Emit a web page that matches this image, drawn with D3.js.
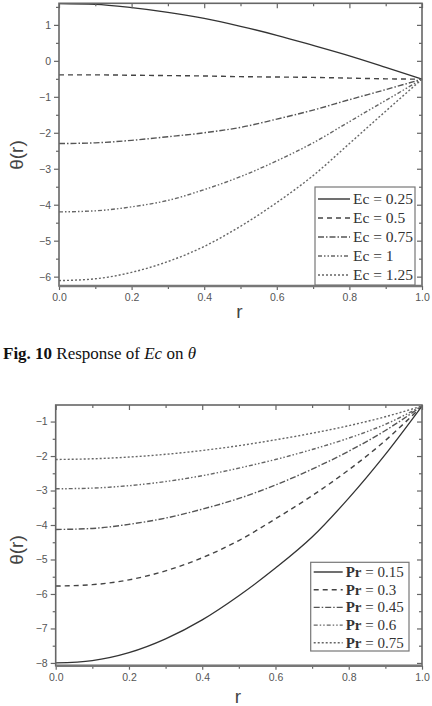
<!DOCTYPE html>
<html><head><meta charset="utf-8">
<script src="https://cdn.jsdelivr.net/npm/d3@7"></script>
<style>body{margin:0;background:#fff;} svg{display:block;}</style>
</head><body>
<svg id="c" width="432" height="706"></svg>
<script>
// ---------- data ----------
const rValues = [0, 0.1, 0.2, 0.3, 0.4, 0.5, 0.6, 0.7, 0.8, 0.9, 1.0];

const ecLabels = ["0.25", "0.5", "0.75", "1", "1.25"];
const ec025 = [1.59, 1.57, 1.48, 1.35, 1.18, 0.96, 0.71, 0.43, 0.14, -0.18, -0.51];
const ec05  = [-0.39, -0.39, -0.40, -0.41, -0.42, -0.44, -0.45, -0.46, -0.48, -0.50, -0.51];
const ec075 = [-2.30, -2.28, -2.21, -2.11, -2.00, -1.85, -1.62, -1.37, -1.08, -0.80, -0.51];
const ec1   = [-4.20, -4.17, -4.06, -3.88, -3.58, -3.22, -2.78, -2.28, -1.69, -1.10, -0.51];
const ec125 = [-6.11, -6.06, -5.88, -5.58, -5.16, -4.60, -3.94, -3.19, -2.30, -1.40, -0.51];

const prLabels = ["0.15", "0.3", "0.45", "0.6", "0.75"];
const pr015 = [-8.00, -7.93, -7.70, -7.30, -6.75, -6.05, -5.25, -4.35, -3.22, -1.95, -0.55];
const pr03  = [-5.77, -5.73, -5.59, -5.33, -4.95, -4.45, -3.82, -3.15, -2.40, -1.55, -0.55];
const pr045 = [-4.13, -4.10, -3.98, -3.80, -3.54, -3.23, -2.84, -2.38, -1.86, -1.26, -0.55];
const pr06  = [-2.95, -2.93, -2.86, -2.74, -2.57, -2.35, -2.10, -1.81, -1.48, -1.08, -0.55];
const pr075 = [-2.10, -2.08, -2.03, -1.95, -1.84, -1.70, -1.53, -1.34, -1.12, -0.86, -0.55];

const xTicks = [0, 0.2, 0.4, 0.6, 0.8, 1.0];
const xMinor = [0.1, 0.3, 0.5, 0.7, 0.9];
const ecYTicks = [-6, -5, -4, -3, -2, -1, 0, 1];
const ecYMinor = [-5.5, -4.5, -3.5, -2.5, -1.5, -0.5, 0.5, 1.5];
const prYTicks = [-8, -7, -6, -5, -4, -3, -2, -1];
const prYMinor = [-7.5, -6.5, -5.5, -4.5, -3.5, -2.5, -1.5];

// ---------- styles ----------
const dashes = [null, "5,4", "6,2,1.5,2", "4,2,1.5,2,1.5,2", "2,2"];
const colors = ["#333", "#444", "#555", "#666", "#666"];

const svg = d3.select("#c");

function panel(cfg) {
  const x = d3.scaleLinear([0, 1], [cfg.x0, cfg.x1]);
  const y = d3.scaleLinear(cfg.yDomain, [cfg.y1, cfg.y0]);
  const g = svg.append("g");

  // series
  const line = d3.line().x((d, i) => x(rValues[i])).y(d => y(d)).curve(d3.curveMonotoneX);
  cfg.series.forEach((s, i) => {
    g.append("path").attr("d", line(s)).attr("fill", "none")
      .attr("stroke", colors[i]).attr("stroke-width", i === 0 ? 1.3 : 1.4)
      .attr("stroke-dasharray", dashes[i]);
  });

  // left axis (outward ticks)
  g.append("g").attr("transform", `translate(${cfg.x0},0)`)
    .call(d3.axisLeft(y).tickValues(cfg.yTicks).tickSize(5).tickPadding(3).tickFormat(d3.format("d")));
  g.append("g").attr("transform", `translate(${cfg.x0},0)`)
    .call(d3.axisLeft(y).tickValues(cfg.yMinor).tickSize(3).tickFormat(""));
  // right axis (inward ticks)
  g.append("g").attr("transform", `translate(${cfg.x1},0)`)
    .call(d3.axisLeft(y).tickValues(cfg.yTicks).tickSize(5).tickFormat(""));
  g.append("g").attr("transform", `translate(${cfg.x1},0)`)
    .call(d3.axisLeft(y).tickValues(cfg.yMinor).tickSize(3).tickFormat(""));
  // bottom axis (outward)
  g.append("g").attr("transform", `translate(0,${cfg.y1})`)
    .call(d3.axisBottom(x).tickValues(xTicks).tickSize(4).tickPadding(4).tickFormat(d3.format(".1f")));
  g.append("g").attr("transform", `translate(0,${cfg.y1})`)
    .call(d3.axisBottom(x).tickValues(xMinor).tickSize(3).tickFormat(""));
  // top axis (inward)
  g.append("g").attr("transform", `translate(0,${cfg.y0})`)
    .call(d3.axisBottom(x).tickValues(xTicks).tickSize(5).tickFormat(""));
  g.append("g").attr("transform", `translate(0,${cfg.y0})`)
    .call(d3.axisBottom(x).tickValues(xMinor).tickSize(3).tickFormat(""));

  g.selectAll(".domain").remove();
  g.selectAll(".tick line").attr("stroke", "#666").attr("stroke-width", 1.2);
  g.selectAll(".tick text").attr("font-family", "Liberation Sans, Arial, sans-serif")
    .attr("font-size", 10.5).attr("fill", "#555");

  // frame
  g.append("rect").attr("x", cfg.x0).attr("y", cfg.y0)
    .attr("width", cfg.x1 - cfg.x0).attr("height", cfg.y1 - cfg.y0)
    .attr("fill", "none").attr("stroke", "#666").attr("stroke-width", 1.6);
  g.append("line").attr("x1", cfg.x0).attr("x2", cfg.x1).attr("y1", cfg.y1).attr("y2", cfg.y1)
    .attr("stroke", "#777").attr("stroke-width", 2.6);

  // axis titles
  g.append("text").attr("x", (cfg.x0 + cfg.x1) / 2 - 1).attr("y", cfg.xTitleY)
    .attr("text-anchor", "middle").attr("font-family", "Liberation Sans, Arial, sans-serif")
    .attr("font-size", 19).attr("fill", "#444").text("r");
  g.append("text").attr("transform", `translate(${cfg.yTitleX},${cfg.yTitleY}) rotate(-90)`)
    .attr("text-anchor", "middle").attr("font-family", "Liberation Sans, Arial, sans-serif")
    .attr("font-size", 19).attr("fill", "#444").text("θ(r)");

  // legend
  const L = cfg.legend;
  g.append("rect").attr("x", L.x).attr("y", L.y).attr("width", L.w).attr("height", L.h)
    .attr("fill", "#fff").attr("stroke", "#777").attr("stroke-width", 1.2);
  cfg.labels.forEach((lab, i) => {
    const yy = L.y + L.first + i * L.step;
    g.append("line").attr("x1", L.x + 3).attr("x2", L.x + L.sample).attr("y1", yy).attr("y2", yy)
      .attr("stroke", colors[i]).attr("stroke-width", 1.4).attr("stroke-dasharray", dashes[i]);
    const t = g.append("text").attr("x", L.x + L.sample + 3).attr("y", yy + 5)
      .attr("font-family", "Liberation Serif, Times New Roman, serif")
      .attr("font-size", L.fs).attr("fill", "#333");
    t.append("tspan").attr("font-weight", L.bold ? "bold" : "normal").text(cfg.param);
    t.append("tspan").text(" = " + lab);
  });
}

panel({
  x0: 59, x1: 422, y0: 3.3, y1: 286,
  yDomain: [-6.26, 1.6], yTicks: ecYTicks, yMinor: ecYMinor,
  series: [ec025, ec05, ec075, ec1, ec125], labels: ecLabels, param: "Ec",
  xTitleY: 318, yTitleX: 23, yTitleY: 155,
  legend: {x: 315, y: 187, w: 100, h: 98, first: 12, step: 19, sample: 35, fs: 15.5, bold: false}
});

panel({
  x0: 55.7, x1: 422, y0: 405, y1: 665.7,
  yDomain: [-8.08, -0.52], yTicks: prYTicks, yMinor: prYMinor,
  series: [pr015, pr03, pr045, pr06, pr075], labels: prLabels, param: "Pr",
  xTitleY: 703, yTitleX: 23, yTitleY: 550,
  legend: {x: 310.7, y: 562.3, w: 98.3, h: 88.7, first: 9.7, step: 17.7, sample: 32, fs: 15, bold: true}
});

// caption
const cap = svg.append("text").attr("x", 3).attr("y", 359)
  .attr("font-family", "Liberation Serif, Times New Roman, serif").attr("font-size", 17).attr("fill", "#111");
cap.append("tspan").attr("font-weight", "bold").text("Fig. 10");
cap.append("tspan").text(" Response of ");
cap.append("tspan").attr("font-style", "italic").text("Ec");
cap.append("tspan").text(" on ");
cap.append("tspan").attr("font-style", "italic").text("θ");
</script>
</body></html>
